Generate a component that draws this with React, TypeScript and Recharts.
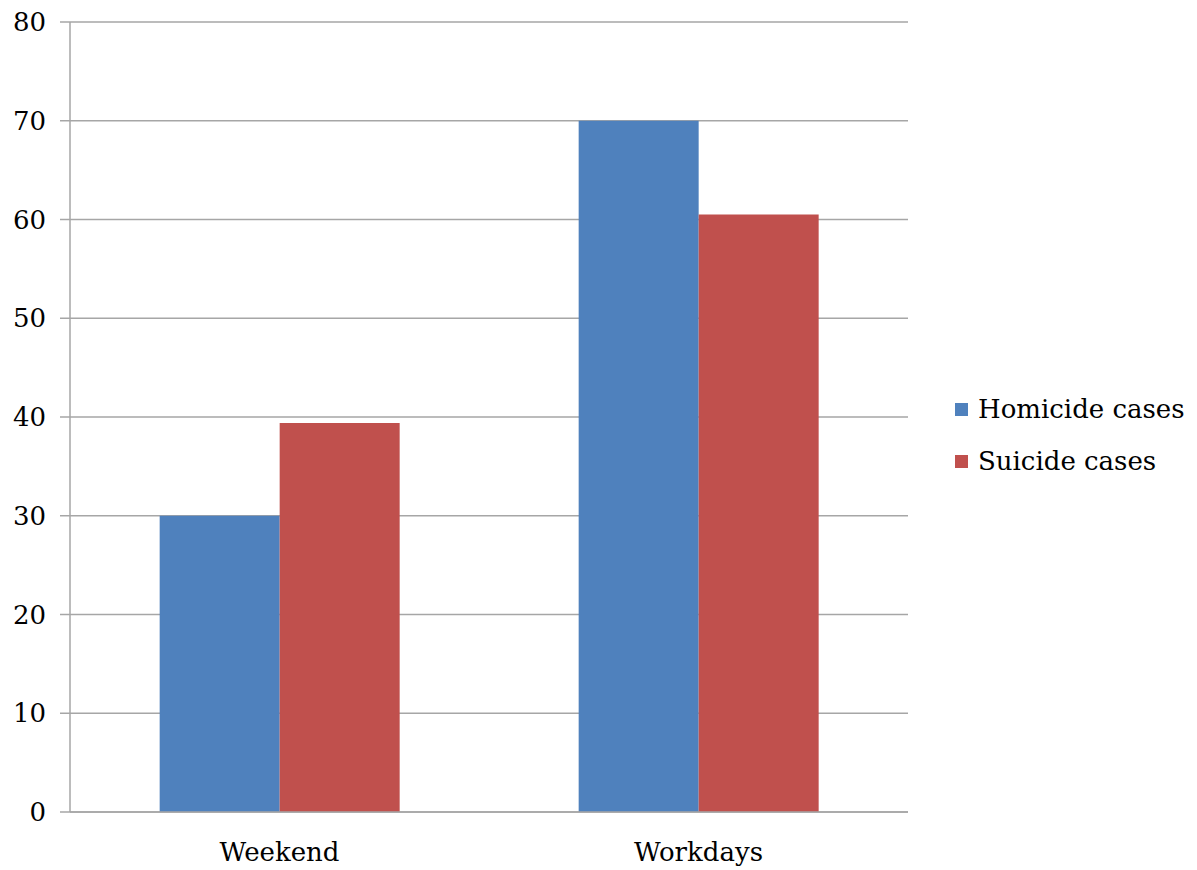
import { BarChart, Bar, XAxis, YAxis, CartesianGrid, Legend } from "recharts";

const categories = ["Weekend", "Workdays"];
const homicideCases = [30, 70];
const suicideCases = [39.4, 60.5];
const yTicks = [0, 10, 20, 30, 40, 50, 60, 70, 80];
// category boundaries, where the x axis has its tick marks
const edgeTicks = [0, 1, 2];

const BLUE = "#4f81bd";
const RED = "#c0504d";
const GRID = "#a6a6a6";
const FONT = "DejaVu Serif, serif";
const FONT_SIZE = 26;

const data = categories.map((name, i) => ({
  name,
  homicide: homicideCases[i],
  suicide: suicideCases[i]
}));

const legendItems = [
  { label: "Homicide cases", color: BLUE },
  { label: "Suicide cases", color: RED }
];

function LegendBox() {
  return (
    <div style={{ paddingLeft: 47, fontFamily: FONT, fontSize: FONT_SIZE, color: "#000", whiteSpace: "nowrap" }}>
      {legendItems.map((item) => (
        <div key={item.label} style={{ display: "flex", alignItems: "center", height: 52 }}>
          <span style={{ width: 13, height: 13, background: item.color, marginRight: 10, display: "inline-block" }} />
          <span>{item.label}</span>
        </div>
      ))}
    </div>
  );
}

export default function App() {
  const tickStyle = { fontFamily: FONT, fontSize: FONT_SIZE, fill: "#000" };
  return (
    <div style={{ position: "absolute", left: 0, top: 0, background: "#fff" }}>
      <BarChart
        width={1197}
        height={870}
        data={data}
        margin={{ top: 22, right: 0, left: 0, bottom: 0 }}
        barCategoryGap="21.4%"
        barGap={0}
      >
        <CartesianGrid stroke={GRID} strokeWidth={1.5} vertical={false} xAxisId={0} />
        <XAxis
          xAxisId={0}
          type="number"
          domain={[0, 2]}
          ticks={edgeTicks}
          height={10}
          stroke={GRID}
          strokeWidth={1.5}
          tickSize={10}
          tick={false}
          tickLine={{ stroke: GRID, strokeWidth: 1.5 }}
        />
        <XAxis
          xAxisId={1}
          dataKey="name"
          height={48}
          axisLine={false}
          tickLine={false}
          tickSize={0}
          tickMargin={21}
          tick={tickStyle}
          interval={0}
        />
        <YAxis
          width={70}
          domain={[0, 80]}
          ticks={yTicks}
          interval={0}
          stroke={GRID}
          strokeWidth={1.5}
          tickSize={10}
          tickMargin={14}
          tick={tickStyle}
          tickLine={{ stroke: GRID, strokeWidth: 1.5 }}
        />
        <Legend
          layout="vertical"
          align="right"
          verticalAlign="middle"
          wrapperStyle={{ width: 289 }}
          content={() => <LegendBox />}
        />
        <Bar xAxisId={1} dataKey="homicide" name="Homicide cases" fill={BLUE} isAnimationActive={false} />
        <Bar xAxisId={1} dataKey="suicide" name="Suicide cases" fill={RED} isAnimationActive={false} />
      </BarChart>
    </div>
  );
}
